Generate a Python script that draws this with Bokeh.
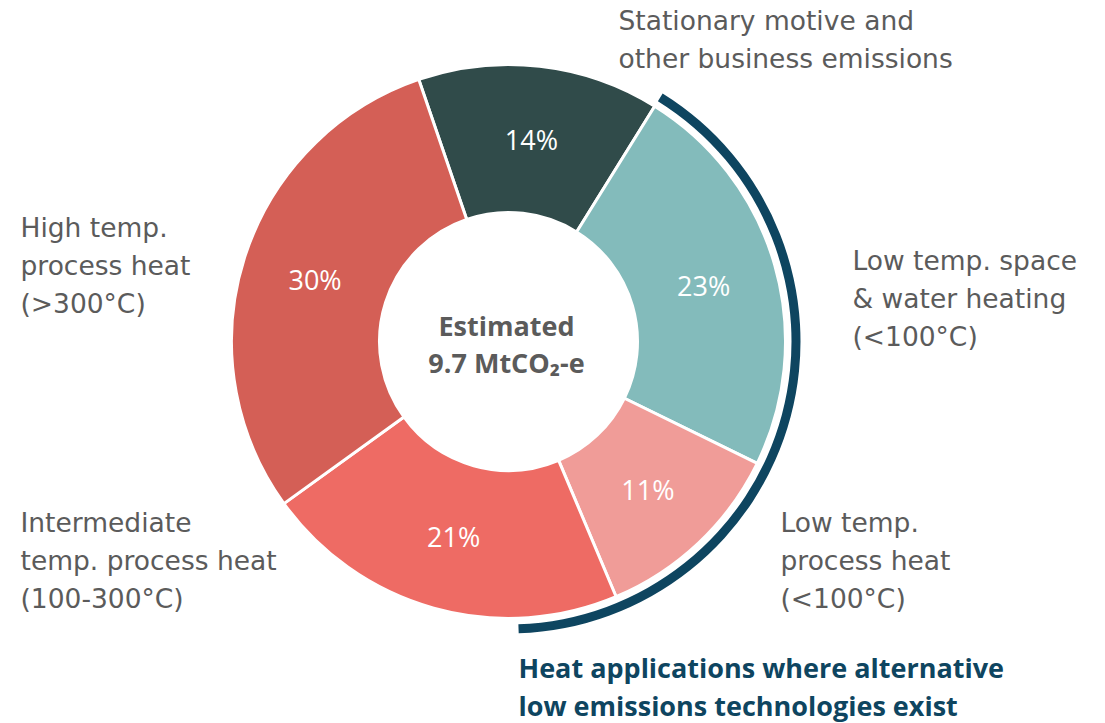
import numpy as np
from bokeh.plotting import figure
from bokeh.models import Range1d, ColumnDataSource
from bokeh.core.properties import value
from bokeh.embed import file_html
from bokeh.resources import INLINE

# ---- data ----
categories = ["Stationary motive and other business emissions",
              "Low temp. space & water heating (<100°C)",
              "Low temp. process heat (<100°C)",
              "Intermediate temp. process heat (100-300°C)",
              "High temp. process heat (>300°C)"]
shares = [14.1, 23.4, 11.4, 21.4, 29.7]
share_labels = ["14%", "23%", "11%", "21%", "30%"]
colors = ["#304B4A", "#83BBBB", "#F09C98", "#EE6B64", "#D45F56"]
label_lines = [
    ["Stationary motive and", "other business emissions"],
    ["Low temp. space", "& water heating", "(<100°C)"],
    ["Low temp.", "process heat", "(<100°C)"],
    ["Intermediate", "temp. process heat", "(100-300°C)"],
    ["High temp.", "process heat", "(>300°C)"],
]
center_title = "Estimated"
center_value = "9.7 MtCO₂-e"
highlight_text = ["Heat applications where alternative",
                  "low emissions technologies exist"]
highlight_slices = [1, 2]  # slices covered by the highlight arc

# ---- layout (pixel-like data coords, y up) ----
W, H = 1097, 723
def Y(y):
    return H - y

cx, cy = 508, Y(341)
r_in, r_out = 129, 277
start_clock = -18.9  # degrees clockwise from top
FONT = "Open Sans"
LFONT = "DejaVu Sans"
GRAY = "#5B5B5B"
NAVY = "#0E4560"

p = figure(width=W, height=H, x_range=Range1d(0, W), y_range=Range1d(0, H),
           output_backend="svg", toolbar_location=None, min_border=0)
p.axis.visible = False
p.grid.visible = False
p.outline_line_color = None
p.background_fill_color = "white"

total = float(sum(shares))
fr = np.array(shares) / total
cum = np.concatenate([[0], np.cumsum(fr)]) * 360.0 + start_clock
starts_c = cum[:-1]
ends_c = cum[1:]
mids_c = (starts_c + ends_c) / 2

src = ColumnDataSource(dict(
    start=np.radians(90 - starts_c), end=np.radians(90 - ends_c),
    color=colors))
p.annular_wedge(x=cx, y=cy, inner_radius=r_in, outer_radius=r_out,
                start_angle="start", end_angle="end", direction="clock",
                fill_color="color", line_color="white", line_width=3, source=src)

# highlight arc
arc_start = starts_c[highlight_slices[0]]
arc_end = 178.0
p.annular_wedge(x=cx, y=cy, inner_radius=283, outer_radius=292,
                start_angle=np.radians(90 - arc_start), end_angle=np.radians(90 - arc_end),
                direction="clock", fill_color=NAVY, line_color=None)

# percent labels
r_mid = (r_in + r_out) / 2
lx = cx + r_mid * np.sin(np.radians(mids_c))
ly = cy + r_mid * np.cos(np.radians(mids_c))
p.text(x=lx, y=ly, text=share_labels, text_color="white", text_font=value(FONT),
       text_font_size="27px", text_align="center", text_baseline="middle")

# center text
p.text(x=[cx - 2], y=[Y(325)], text=[center_title], text_color=GRAY, text_font=value(FONT),
       text_font_style="bold", text_font_size="27px", text_align="center", text_baseline="middle")
p.text(x=[cx - 2], y=[Y(362)], text=[center_value], text_color=GRAY, text_font=value(FONT),
       text_font_style="bold", text_font_size="27px", text_align="center", text_baseline="middle")

# category labels
label_pos = [(618, 20), (852, 260), (780, 522), (20, 522), (20, 227)]
line_gap = 38
for (x0, y0), lines in zip(label_pos, label_lines):
    xs = [x0] * len(lines)
    ys = [Y(y0 + i * line_gap) for i in range(len(lines))]
    p.text(x=xs, y=ys, text=lines, text_color=GRAY, text_font=value(LFONT),
           text_font_size="26.5px", text_align="left", text_baseline="middle")

# highlight caption
p.text(x=[518, 518], y=[Y(667), Y(705)], text=highlight_text, text_color=NAVY,
       text_font=value(FONT), text_font_style="bold", text_font_size="27px",
       text_align="left", text_baseline="middle")

open("out.html", "w").write(file_html(p, INLINE))
